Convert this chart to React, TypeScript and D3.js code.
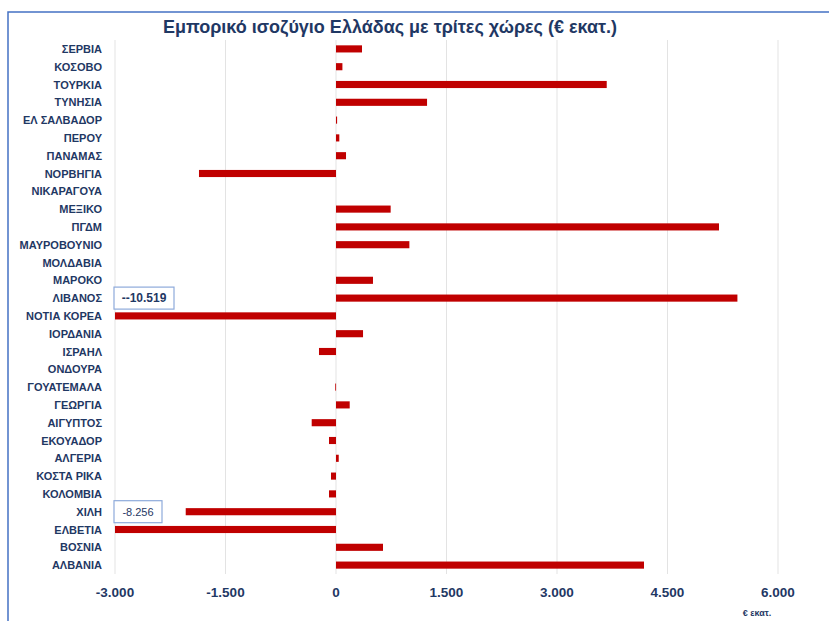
import React from "react";
import * as d3 from "d3";

const countries = [
  "ΣΕΡΒΙΑ", "ΚΟΣΟΒΟ", "ΤΟΥΡΚΙΑ", "ΤΥΝΗΣΙΑ", "ΕΛ ΣΑΛΒΑΔΟΡ", "ΠΕΡΟΥ", "ΠΑΝΑΜΑΣ",
  "ΝΟΡΒΗΓΙΑ", "ΝΙΚΑΡΑΓΟΥΑ", "ΜΕΞΙΚΟ", "ΠΓΔΜ", "ΜΑΥΡΟΒΟΥΝΙΟ", "ΜΟΛΔΑΒΙΑ", "ΜΑΡΟΚΟ",
  "ΛΙΒΑΝΟΣ", "ΝΟΤΙΑ ΚΟΡΕΑ", "ΙΟΡΔΑΝΙΑ", "ΙΣΡΑΗΛ", "ΟΝΔΟΥΡΑ", "ΓΟΥΑΤΕΜΑΛΑ", "ΓΕΩΡΓΙΑ",
  "ΑΙΓΥΠΤΟΣ", "ΕΚΟΥΑΔΟΡ", "ΑΛΓΕΡΙΑ", "ΚΟΣΤΑ ΡΙΚΑ", "ΚΟΛΟΜΒΙΑ", "ΧΙΛΗ", "ΕΛΒΕΤΙΑ",
  "ΒΟΣΝΙΑ", "ΑΛΒΑΝΙΑ",
];
const balances = [
  353, 87, 3675, 1236, 15, 45, 136,
  -1860, 0, 742, 5199, 996, 0, 502,
  5449, -10519, 367, -231, 0, -10, 186,
  -330, -95, 37, -68, -95, -2040, -8256,
  638, 4181,
];
const xTicks = [-3000, -1500, 0, 1500, 3000, 4500, 6000];
const calloutLabels = [
  { country: "ΝΟΤΙΑ ΚΟΡΕΑ", text: "--10.519", bold: true },
  { country: "ΕΛΒΕΤΙΑ", text: "-8.256", bold: false },
];

const title = "Εμπορικό ισοζύγιο Ελλάδας με τρίτες χώρες (€ εκατ.)";
const unitLabel = "€ εκατ.";

const NAVY = "#1f3864";
const RED = "#c00000";
const FONT = "'Liberation Sans', Arial, sans-serif";

const fmt = (v: number) => {
  const s = d3.format(",")(v);
  return s.replace(/,/g, ".").replace("−", "-");
};

export default function App() {
  const W = 829;
  const H = 621;
  const x = d3.scaleLinear().domain([-3000, 6000]).range([115, 778]).clamp(true);
  const y = d3.scaleBand<string>().domain(countries).range([40, 574]).paddingInner(0.6).paddingOuter(0.3);
  const step = y.step();

  return (
    <svg width={W} height={H} style={{ position: "absolute", left: 0, top: 0 }}>
      <rect x={0} y={0} width={W} height={H} fill="#ffffff" />
      <rect x={8} y={12} width={W} height={H} fill="#ffffff" stroke="#4472c4" strokeWidth={1.5} />
      <text x={390} y={33} textAnchor="middle" fontFamily={FONT} fontWeight="bold" fontSize={18} fill={NAVY}>
        {title}
      </text>
      {xTicks.map((t) => (
        <g key={t}>
          <line x1={x(t)} x2={x(t)} y1={40} y2={574} stroke="#e3e3e3" strokeWidth={1} />
          <text x={x(t)} y={597} textAnchor="middle" fontFamily={FONT} fontWeight="bold" fontSize={13.5} fill={NAVY}>
            {fmt(t)}
          </text>
        </g>
      ))}
      {countries.map((c, i) => {
        const v = balances[i];
        const x0 = x(Math.min(0, v));
        const x1 = x(Math.max(0, v));
        const yc = (y(c) as number) + y.bandwidth() / 2;
        return (
          <g key={c}>
            <text x={102} y={yc + 4} textAnchor="end" fontFamily={FONT} fontWeight="bold" fontSize={11} fill={NAVY}>
              {c}
            </text>
            {v !== 0 && (
              <rect x={x0} y={y(c) as number} width={Math.max(0.8, x1 - x0)} height={y.bandwidth()} fill={RED} />
            )}
          </g>
        );
      })}
      {calloutLabels.map((l) => {
        const yc = (y(l.country) as number) + y.bandwidth() / 2 - step;
        const bw = l.bold ? 60 : 48;
        return (
          <g key={l.country}>
            <rect x={114} y={yc - 11} width={bw} height={22} fill="#ffffff" stroke="#8eaadb" strokeWidth={1.2} />
            <text x={114 + bw / 2} y={yc + 4} textAnchor="middle" fontFamily={FONT}
              fontWeight={l.bold ? "bold" : "normal"} fontSize={l.bold ? 12 : 11} fill={NAVY}>
              {l.text}
            </text>
          </g>
        );
      })}
      <text x={757} y={616} textAnchor="middle" fontFamily={FONT} fontWeight="bold" fontSize={9} fill={NAVY}>
        {unitLabel}
      </text>
    </svg>
  );
}
